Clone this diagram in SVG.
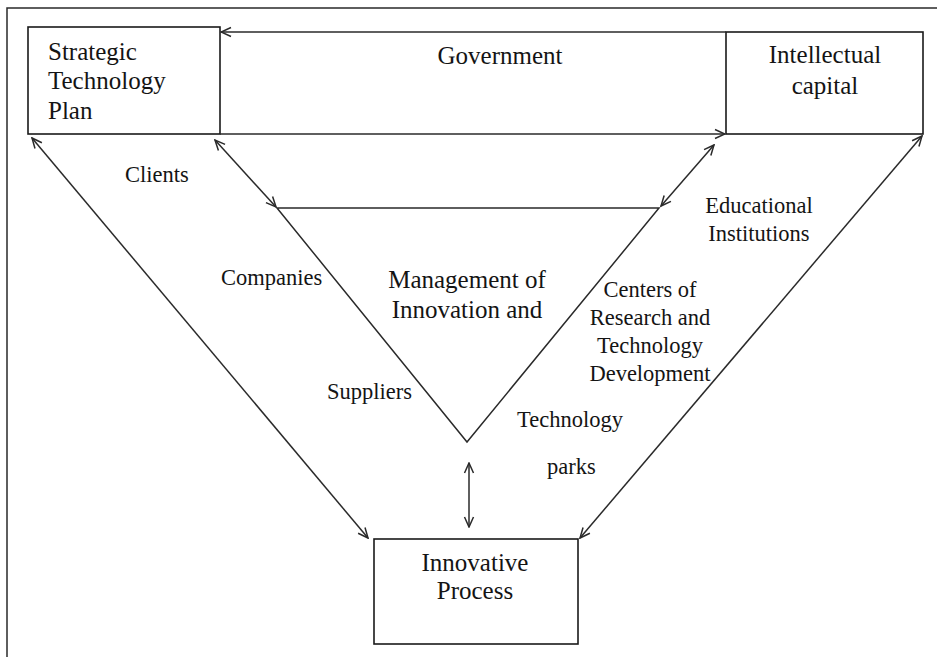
<svg xmlns="http://www.w3.org/2000/svg" width="937" height="657" viewBox="0 0 937 657">
  <style>
    .box { fill: #fff; stroke: #1a1a1a; stroke-width: 1.6; }
    .ln { fill: none; stroke: #2a2a2a; stroke-width: 1.5; }
    .lbl { font-size: 22.5px; fill: #141414; }
    .big { font-size: 25px; }
    .mid { text-anchor: middle; }
  </style>
  <defs>
    <marker id="ah" viewBox="0 0 12 12" refX="11" refY="6" markerWidth="12" markerHeight="12" markerUnits="userSpaceOnUse" orient="auto-start-reverse">
      <path d="M1,1.5 L11,6 L1,10.5" fill="none" stroke="#2a2a2a" stroke-width="1.5"/>
    </marker>
  </defs>
  <rect width="937" height="657" fill="#fff"/>

  <!-- outer frame (open at right and bottom) -->
  <path class="ln" d="M7,657 V8 H937" stroke-width="1.8"/>

  <g font-family="'Liberation Serif', 'Times New Roman', 'DejaVu Serif', serif">
  <g id="strategic-plan">
    <rect class="box" x="28" y="27" width="192" height="107"/>
    <text class="lbl big" x="48" y="60">Strategic</text>
    <text class="lbl big" x="48" y="89">Technology</text>
    <text class="lbl big" x="48" y="119">Plan</text>
  </g>

  <g id="government">
    <text class="lbl big mid" x="500" y="64">Government</text>
  </g>

  <g id="intellectual-capital">
    <rect class="box" x="726" y="32" width="197" height="102"/>
    <text class="lbl big mid" x="825" y="63">Intellectual</text>
    <text class="lbl big mid" x="825" y="94">capital</text>
  </g>

  <g id="management-triangle">
    <path class="ln" d="M277,208 H659 L467,442 Z"/>
    <text class="lbl big mid" x="467" y="288">Management of</text>
    <text class="lbl big mid" x="467" y="318">Innovation and</text>
  </g>

  <g id="innovative-process">
    <rect class="box" x="374" y="539" width="204" height="105"/>
    <text class="lbl big mid" x="475" y="571">Innovative</text>
    <text class="lbl big mid" x="475" y="599">Process</text>
  </g>

  <g id="labels">
    <text class="lbl" x="125" y="182">Clients</text>
    <text class="lbl" x="221" y="285">Companies</text>
    <text class="lbl" x="327" y="399">Suppliers</text>
    <text class="lbl mid" x="759" y="213">Educational</text>
    <text class="lbl mid" x="759" y="241">Institutions</text>
    <text class="lbl mid" x="650" y="297">Centers of</text>
    <text class="lbl mid" x="650" y="325">Research and</text>
    <text class="lbl mid" x="650" y="353">Technology</text>
    <text class="lbl mid" x="650" y="381">Development</text>
    <text class="lbl" x="517" y="427">Technology</text>
    <text class="lbl" x="547" y="474">parks</text>
  </g>
  </g>

  <g id="connectors">
    <!-- top line: Intellectual capital back to the plan -->
    <line class="ln" x1="726" y1="32" x2="221" y2="32" marker-end="url(#ah)"/>
    <!-- bottom line: plan to Intellectual capital -->
    <line class="ln" x1="220" y1="134" x2="725" y2="134" marker-end="url(#ah)"/>
    <!-- plan <-> triangle -->
    <line class="ln" x1="215" y1="140" x2="276" y2="207" marker-start="url(#ah)" marker-end="url(#ah)"/>
    <!-- triangle <-> intellectual capital -->
    <line class="ln" x1="661" y1="206" x2="714" y2="145" marker-start="url(#ah)" marker-end="url(#ah)"/>
    <!-- plan <-> innovative process -->
    <line class="ln" x1="32" y1="138" x2="368" y2="538" marker-start="url(#ah)" marker-end="url(#ah)"/>
    <!-- intellectual capital <-> innovative process -->
    <line class="ln" x1="922" y1="136" x2="580" y2="538" marker-start="url(#ah)" marker-end="url(#ah)"/>
    <!-- triangle <-> innovative process -->
    <line class="ln" x1="469" y1="463" x2="469" y2="527" marker-start="url(#ah)" marker-end="url(#ah)"/>
  </g>
</svg>
